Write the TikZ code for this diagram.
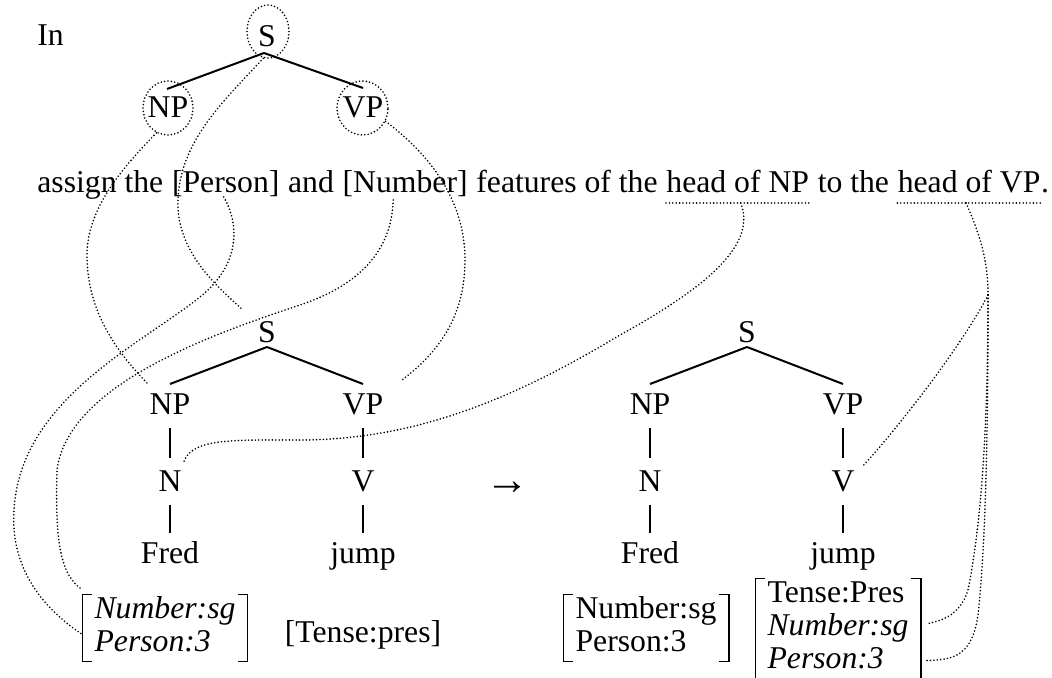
\documentclass[tikz,border=0pt]{standalone}
\usepackage{fontspec}
\setmainfont{Liberation Serif}
\usetikzlibrary{shapes.geometric,calc}
\newcommand\dgfont{\fontsize{15.85pt}{16.5pt}\selectfont}
\newcommand\fbrk[1]{%
  \draw[brk] ([xshift=5pt]#1.north west) -- (#1.north west) -- (#1.south west) -- ([xshift=5pt]#1.south west);
  \draw[brk] ([xshift=-5pt]#1.north east) -- (#1.north east) -- (#1.south east) -- ([xshift=-5pt]#1.south east);}
\tikzset{
  lbl/.style={inner sep=0pt, font=\dgfont},
  edge/.style={line width=1pt},
  bar/.style={line width=0.65pt},
  dots/.style={line width=0.9pt, line cap=round, dash pattern=on 0pt off 1.7pt},
  ring/.style={draw, ellipse, dots, inner sep=0pt},
  fmat/.style={inner xsep=6pt, inner ysep=0pt, font=\dgfont},
  brk/.style={line width=0.65pt},
}
\begin{document}
\begin{tikzpicture}[x=0.5pt, y=-0.5pt]
\useasboundingbox (0,0) rectangle (1052,678);
\fill[white] (0,0) rectangle (1052,678);

% intro and top tree
\node[lbl, anchor=base west] (in) at (37,46) {In};
\node[lbl, anchor=base] (tS) at (267,47) {S};
\node[lbl, anchor=base] (tNP) at (168,118) {NP};
\node[lbl, anchor=base] (tVP) at (363,118) {VP};
\node[ring, minimum width=21pt, minimum height=26.5pt] (eS) at (268,31.5) {};
\node[ring, minimum width=25pt, minimum height=27pt] (eNP) at (168,108) {};
\node[ring, minimum width=25.5pt, minimum height=27pt] (eVP) at (362.5,108) {};
\draw[edge] ($(tS.base)+(-3,6)$) -- ($(tNP.base)+(-1,-29)$);
\draw[edge] ($(tS.base)+(-3,6)$) -- ($(tVP.base)+(0,-30)$);

% sentence
\node[lbl, anchor=base west] (w1) at (37,193) {assign the~\kern0pt};
\node[lbl, anchor=base west] (wPer) at (w1.base east) {[Person]};
\node[lbl, anchor=base west] (w2) at (wPer.base east) {~and~\kern0pt};
\node[lbl, anchor=base west] (wNum) at (w2.base east) {[Number]};
\node[lbl, anchor=base west] (w3) at (wNum.base east) {~features of the~\kern0pt};
\node[lbl, anchor=base west] (hNP) at (w3.base east) {head of NP};
\node[lbl, anchor=base west] (w4) at (hNP.base east) {~to the~\kern0pt};
\node[lbl, anchor=base west] (hVP) at (w4.base east) {head of VP};
\node[lbl, anchor=base west] (w5) at (hVP.base east) {.};
\draw[dots] ($(hNP.base west)+(0,10)$) -- ($(hNP.base east)+(0,10)$);
\draw[dots] ($(hVP.base west)+(0,10)$) -- ($(hVP.base east)+(0,10)$);

% left tree
\node[lbl, anchor=base] (mS) at (267,342) {S};
\node[lbl, anchor=base] (mNP) at (170,414) {NP};
\node[lbl, anchor=base] (mVP) at (363,414) {VP};
\node[lbl, anchor=base] (mN) at (170,491) {N};
\node[lbl, anchor=base] (mV) at (363,491) {V};
\node[lbl, anchor=base] (mFred) at (170,563) {Fred};
\node[lbl, anchor=base] (mjump) at (363,563) {jump};
\draw[edge] ($(mS.base)+(0,5)$) -- ($(mNP.base)+(0,-30)$);
\draw[edge] ($(mS.base)+(0,5)$) -- ($(mVP.base)+(0,-30)$);
\draw[bar] ($(mNP.base)+(0,14)$) -- ($(mN.base)+(0,-33)$);
\draw[bar] ($(mVP.base)+(0,14)$) -- ($(mV.base)+(0,-33)$);
\draw[bar] ($(mN.base)+(0,14)$) -- ($(mFred.base)+(0,-30)$);
\draw[bar] ($(mV.base)+(0,14)$) -- ($(mjump.base)+(0,-30)$);
\node[fmat] (lm) at (165,628) {\begin{tabular}{@{}l@{}}\itshape Number:sg\\ \itshape Person:3\end{tabular}};
\fbrk{lm}
\node[lbl, anchor=base] (tp) at (363,642) {[Tense:pres]};

% arrow
\node[lbl, anchor=base, font=\fontsize{22pt}{24pt}\selectfont] (arr) at (507,494) {→};

% right tree
\node[lbl, anchor=base] (rS) at (747,342) {S};
\node[lbl, anchor=base] (rNP) at (650,414) {NP};
\node[lbl, anchor=base] (rVP) at (843,414) {VP};
\node[lbl, anchor=base] (rN) at (650,491) {N};
\node[lbl, anchor=base] (rV) at (843,491) {V};
\node[lbl, anchor=base] (rFred) at (650,563) {Fred};
\node[lbl, anchor=base] (rjump) at (843,563) {jump};
\draw[edge] ($(rS.base)+(0,5)$) -- ($(rNP.base)+(0,-30)$);
\draw[edge] ($(rS.base)+(0,5)$) -- ($(rVP.base)+(0,-30)$);
\draw[bar] ($(rNP.base)+(0,14)$) -- ($(rN.base)+(0,-33)$);
\draw[bar] ($(rVP.base)+(0,14)$) -- ($(rV.base)+(0,-33)$);
\draw[bar] ($(rN.base)+(0,14)$) -- ($(rFred.base)+(0,-30)$);
\draw[bar] ($(rV.base)+(0,14)$) -- ($(rjump.base)+(0,-30)$);
\node[fmat] (rm) at (646,628) {\begin{tabular}{@{}l@{}}Number:sg\\ Person:3\end{tabular}};
\fbrk{rm}
\node[fmat] (tm) at (838,628.5) {\begin{tabular}{@{}l@{}}Tense:Pres\\ \itshape Number:sg\\ \itshape Person:3\end{tabular}};
\fbrk{tm}

% dotted correspondence curves
\draw[dots] (eS.-100) .. controls (225,100) and (180,140) .. (178,200)
  .. controls (176,250) and (215,285) .. ($(mS.base)+(-24,-32)$);
\draw[dots] (eNP.-115) .. controls (120,170) and (87,210) .. (87,255)
  .. controls (87,310) and (115,350) .. ($(mNP.base)+(-23,-31)$);
\draw[dots] (eVP.-30) .. controls (430,155) and (465,200) .. (465,260)
  .. controls (465,320) and (435,355) .. ($(mVP.base)+(39,-34)$);
\draw[dots] ($(wPer.base)+(-2,4)$) .. controls (240,225) and (240,265) .. (200,297)
  .. controls (140,345) and (20,400) .. (14,510)
  .. controls (10,570) and (45,610) .. ($(lm.west)+(1,7)$);
\draw[dots] ($(wNum.base)+(-12,7)$) .. controls (392,250) and (360,285) .. (300,305)
  .. controls (210,335) and (68,385) .. (57,470)
  .. controls (55,540) and (60,575) .. ($(lm.north west)+(0,-5)$);
\draw[dots] ($(hNP.base)+(3,10)$) .. controls (755,240) and (720,280) .. (620,335)
  .. controls (520,395) and (420,440) .. (300,440)
  .. controls (230,440) and (190,438) .. ($(mN.base)+(13,-27)$);
\coordinate (br) at (988,295);
\draw[dots] ($(hVP.base)+(-3,10)$) .. controls (980,235) and (988,260) .. (br);
\draw[dots] (br) .. controls (965,340) and (905,420) .. ($(rV.base)+(19,-24)$);
\draw[dots] (br) .. controls (988,420) and (982,520) .. (968,590)
  .. controls (962,610) and (948,620) .. ($(tm.east)+(7,-5)$);
\draw[dots] (br) .. controls (988,450) and (985,550) .. (978,615)
  .. controls (972,655) and (955,660) .. ($(tm.east)+(6,32)$);
\end{tikzpicture}
\end{document}
